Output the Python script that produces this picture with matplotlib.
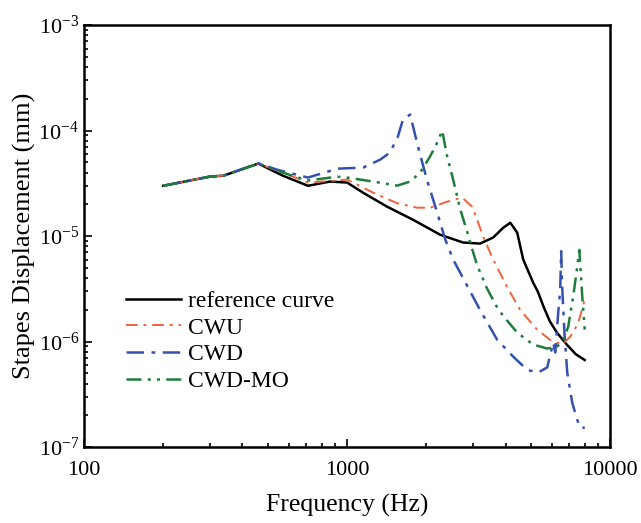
import matplotlib
matplotlib.use("Agg")
import matplotlib.pyplot as plt
from matplotlib.ticker import LogLocator, LogFormatterSciNotation, NullFormatter

plt.rcParams['font.family'] = ['Liberation Serif', 'DejaVu Serif']
plt.rcParams['mathtext.fontset'] = 'stix'

# ---- data ----
ref_freq = [200, 300, 340, 460, 570, 710, 860, 1000, 1150, 1420, 1780, 2260, 2760,
            3200, 3590, 3920, 4170, 4430, 4670, 5100, 5300, 5600, 5900, 6300, 6860,
            7400, 8000]
ref_disp = [3.0e-5, 3.66e-5, 3.75e-5, 4.87e-5, 3.74e-5, 3.0e-5, 3.29e-5, 3.22e-5,
            2.58e-5, 1.9e-5, 1.43e-5, 1.03e-5, 8.7e-6, 8.5e-6, 9.7e-6, 1.2e-5,
            1.34e-5, 1.08e-5, 6.0e-6, 3.6e-6, 3.0e-6, 2.1e-6, 1.55e-6, 1.2e-6,
            9.3e-7, 7.6e-7, 6.7e-7]

cwu_freq = [200, 300, 340, 460, 600, 710, 920, 1000, 1256, 1455, 1549, 1846, 2068,
            2399, 2737, 2987, 3148, 3289, 3590, 4055, 4545, 5275, 5910, 6565, 7040,
            7560, 8000]
cwu_disp = [3.0e-5, 3.66e-5, 3.75e-5, 4.87e-5, 3.8e-5, 3.22e-5, 3.37e-5, 3.44e-5,
            2.58e-5, 2.2e-5, 2.05e-5, 1.86e-5, 1.86e-5, 2.12e-5, 2.32e-5, 1.9e-5,
            1.34e-5, 9.9e-6, 6.0e-6, 3.3e-6, 2.0e-6, 1.3e-6, 1.04e-6, 9.4e-7,
            1.11e-6, 1.5e-6, 2.5e-6]

cwd_freq = [200, 300, 340, 460, 540, 710, 920, 1150, 1335, 1455, 1560, 1630, 1736,
            1860, 2010, 2200, 2360, 2530, 3200, 3720, 4280, 4835, 5325, 5760, 6070,
            6180, 6345, 6455, 6510, 6560, 6700, 6865, 7170, 7490, 7690, 8000]
cwd_disp = [3.0e-5, 3.66e-5, 3.75e-5, 4.9e-5, 4.27e-5, 3.59e-5, 4.36e-5, 4.46e-5,
            5.3e-5, 6.2e-5, 8.8e-5, 1.27e-4, 1.42e-4, 7.05e-5, 3.43e-5, 1.67e-5,
            9.3e-6, 6.0e-6, 2.0e-6, 1.04e-6, 7.2e-7, 5.4e-7, 5.1e-7, 5.7e-7, 9.8e-7,
            7.9e-7, 1.9e-6, 3.1e-6, 7.2e-6, 3.5e-6, 1.2e-6, 5.1e-7, 2.64e-7,
            1.82e-7, 1.53e-7, 1.53e-7]

mo_freq = [200, 300, 340, 460, 600, 710, 920, 1000, 1256, 1550, 1736, 1895, 2068,
           2200, 2298, 2400, 2530, 2690, 2860, 2935, 3120, 3400, 3720, 3920, 4430,
           5090, 5760, 6290, 6640, 6925, 7230, 7490, 7630, 7830, 8000]
mo_disp = [3.0e-5, 3.66e-5, 3.75e-5, 4.87e-5, 3.83e-5, 3.37e-5, 3.66e-5, 3.59e-5,
           3.29e-5, 3.01e-5, 3.29e-5, 4.0e-5, 5.7e-5, 7.7e-5, 1.0e-4, 5.7e-5,
           3.43e-5, 1.8e-5, 1.1e-5, 8.7e-6, 5.3e-6, 3.2e-6, 2.1e-6, 1.75e-6,
           1.22e-6, 9.4e-7, 8.6e-7, 9.0e-7, 1.04e-6, 1.39e-6, 2.67e-6, 5.1e-6,
           7.4e-6, 2.67e-6, 1.3e-6]

labels = ['reference curve', 'CWU', 'CWD', 'CWD-MO']
x_ticks = [100, 1000, 10000]
x_ticklabels = ['100', '1000', '10000']

# ---- figure ----
fig = plt.figure(figsize=(6.41, 5.23), dpi=100)
ax = fig.add_axes([0.131, 0.145, 0.821, 0.807])

ax.plot(ref_freq, ref_disp, color='black', lw=1.8, ls='-', label=labels[0])
ax.plot(cwu_freq, cwu_disp, color='#f0623c', lw=1.4, ls=(0, (6, 3, 1.5, 3)), label=labels[1])
ax.plot(cwd_freq, cwd_disp, color='#3550b0', lw=1.8, ls=(0, (7, 3, 1.5, 3)), label=labels[2])
ax.plot(mo_freq, mo_disp, color='#1e7d3c', lw=1.8, ls=(0, (6, 2.5, 1.2, 2.5, 1.2, 2.5)), label=labels[3])

ax.set_xscale('log')
ax.set_yscale('log')
ax.set_xlim(100, 10000)
ax.set_ylim(1e-7, 1e-3)
ax.set_xticks(x_ticks)
ax.set_xticklabels(x_ticklabels)
ax.xaxis.set_minor_formatter(NullFormatter())
ax.yaxis.set_major_locator(LogLocator(base=10, numticks=10))
ax.yaxis.set_major_formatter(LogFormatterSciNotation())
ax.yaxis.set_minor_locator(LogLocator(base=10, subs=range(2, 10), numticks=20))
ax.yaxis.set_minor_formatter(NullFormatter())

ax.tick_params(which='both', direction='in', top=False, right=False, labelsize=16, width=1.2)
ax.tick_params(which='major', length=6)
ax.tick_params(which='minor', length=3)
ax.tick_params(axis='x', pad=10)
for s in ax.spines.values():
    s.set_linewidth(1.8)

ax.set_xlabel('Frequency (Hz)', fontsize=18.5, labelpad=10)
ax.set_ylabel('Stapes Displacement (mm)', fontsize=19, labelpad=2)

ax.legend(loc='lower left', bbox_to_anchor=(0.04, 0.08), frameon=False, fontsize=17,
          handlelength=2.3, handletextpad=0.3, labelspacing=0.22)

fig.savefig('out.png', dpi=100)
